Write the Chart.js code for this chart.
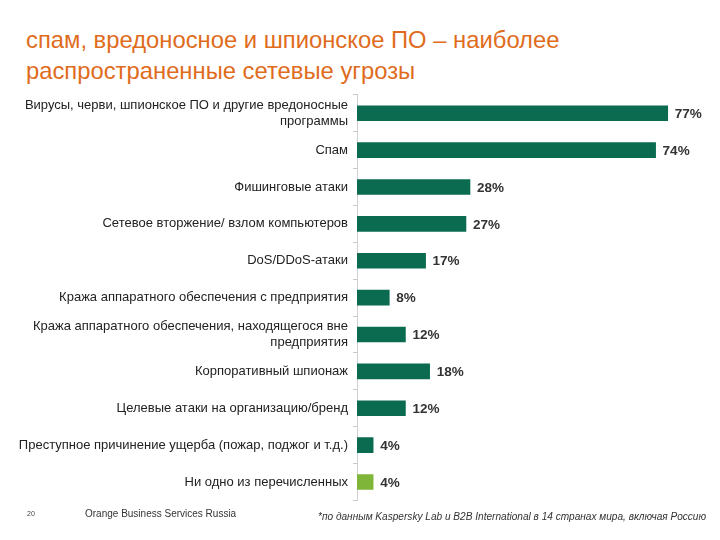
<!DOCTYPE html>
<html>
<head>
<meta charset="utf-8">
<script src="https://cdn.jsdelivr.net/npm/chart.js@4"></script>
<style>
    body { margin: 0; width: 720px; height: 540px; background: #fff; position: relative; overflow: hidden; font-family: "Liberation Sans", Arial, sans-serif; }
    #titulo { position: absolute; left: 26px; top: 24px; color: #df6c1c; font-size: 23.8px; line-height: 31px; }
    #grafico-box { position: absolute; left: 0; top: 82px; width: 720px; height: 439px; }
    .rodape { position: absolute; color: #333; }
</style>
</head>
<body>
<div id="titulo">спам, вредоносное и шпионское ПО – наиболее<br>распространенные сетевые угрозы</div>
<div id="grafico-box"><canvas id="graficoAmeacas"></canvas></div>
<div class="rodape" style="left:27px; top:510px; font-size:7px; color:#444;">20</div>
<div class="rodape" style="left:85px; top:508px; font-size:10px;">Orange Business Services Russia</div>
<div class="rodape" style="left:318px; top:511px; font-size:10.1px; font-style:italic;">*по данным Kaspersky Lab и B2B International в 14 странах мира, включая Россию</div>

<script>
// categorias (linhas quebradas como na imagem)
const categorias = [
    ["Вирусы, черви, шпионское ПО и другие вредоносные", "программы"],
    "Спам",
    "Фишинговые атаки",
    "Сетевое вторжение/ взлом компьютеров",
    "DoS/DDoS-атаки",
    "Кража аппаратного обеспечения с предприятия",
    ["Кража аппаратного обеспечения, находящегося вне", "предприятия"],
    "Корпоративный шпионаж",
    "Целевые атаки на организацию/бренд",
    "Преступное причинение ущерба (пожар, поджог и т.д.)",
    "Ни одно из перечисленных"
];
const valores = [77, 74, 28, 27, 17, 8, 12, 18, 12, 4, 4];
const cores = ['#0b6b51', '#0b6b51', '#0b6b51', '#0b6b51', '#0b6b51', '#0b6b51',
    '#0b6b51', '#0b6b51', '#0b6b51', '#0b6b51', '#7fb539'];

// rótulos de valor no fim das barras
const rotulosValor = {
    id: 'rotulosValor',
    afterDatasetsDraw(chart) {
        const ctx = chart.ctx;
        const meta = chart.getDatasetMeta(0);
        ctx.save();
        ctx.font = 'bold 13.5px "Liberation Sans", Arial, sans-serif';
        ctx.fillStyle = '#333';
        ctx.textBaseline = 'middle';
        meta.data.forEach(function (barra, i) {
            ctx.fillText(valores[i] + '%', barra.x + 7, barra.y + 1);
        });
        ctx.restore();
    }
};

const ctx = document.getElementById('graficoAmeacas').getContext('2d');
window.meuGrafico = new Chart(ctx, {
    type: 'bar',
    data: {
        labels: categorias,
        datasets: [{
            data: valores,
            backgroundColor: cores,
            barThickness: 15
        }]
    },
    options: {
        indexAxis: 'y',
        responsive: true,
        maintainAspectRatio: false,
        animation: false,
        layout: { padding: { top: 6, bottom: 7, right: 20, left: 0 } },
        scales: {
            x: {
                display: false,
                min: 0,
                max: 85
            },
            y: {
                afterFit: function (scale) { scale.width = 357; },
                ticks: {
                    color: '#222',
                    padding: 5,
                    font: { family: '"Liberation Sans", Arial, sans-serif', size: 13 }
                },
                grid: {
                    offset: true,
                    drawOnChartArea: false,
                    tickLength: 4,
                    color: '#c8c8c8'
                },
                border: { color: '#d0d0d0' }
            }
        },
        plugins: {
            legend: { display: false },
            tooltip: { enabled: false }
        }
    },
    plugins: [rotulosValor]
});
</script>
</body>
</html>
